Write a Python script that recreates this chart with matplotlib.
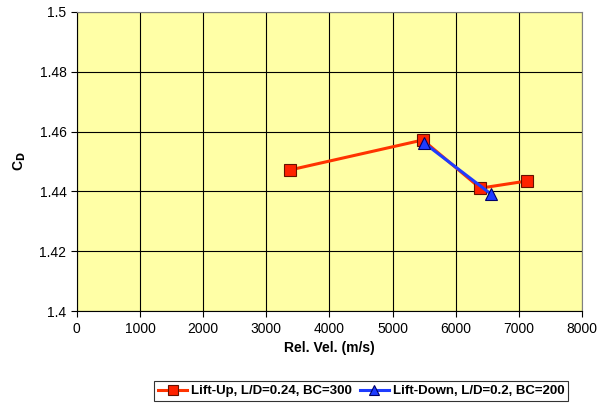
import matplotlib
matplotlib.use('Agg')
import matplotlib.pyplot as plt

plt.rcParams['font.family'] = ['Liberation Sans', 'DejaVu Sans']

# Lift-Up, L/D=0.24, BC=300
up_vel = [3380, 5480, 6390, 7130]
up_cd = [1.4472, 1.4572, 1.4411, 1.4435]

# Lift-Down, L/D=0.2, BC=200
down_vel = [5500, 6560]
down_cd = [1.4562, 1.4391]

fig = plt.figure(figsize=(6, 4.11), dpi=100)
ax = fig.add_axes([0.128, 0.243, 0.842, 0.728])
ax.set_facecolor('#FFFFA6')

ax.plot(up_vel, up_cd, color='#FF3300', lw=2.2, marker='s', ms=8,
        mfc='#FF2200', mec='#661100', mew=0.8,
        label='Lift-Up, L/D=0.24, BC=300', zorder=3)
ax.plot(down_vel, down_cd, color='#1E3CFF', lw=2.2, marker='^', ms=8,
        mfc='#1E3CFF', mec='#000066', mew=0.8,
        label='Lift-Down, L/D=0.2, BC=200', zorder=4)

ax.set_xlim(0, 8000)
ax.set_ylim(1.4, 1.5)
ax.set_xticks(range(0, 8001, 1000))
ax.set_yticks([1.4, 1.42, 1.44, 1.46, 1.48, 1.5])
ax.set_yticklabels(['1.4', '1.42', '1.44', '1.46', '1.48', '1.5'])
ax.grid(True, color='black', lw=0.8)
ax.tick_params(labelsize=10, direction='out', length=4)
for s in ax.spines.values():
    s.set_color('#808080')
ax.spines['left'].set_color('black')
ax.spines['bottom'].set_color('black')

ax.set_xlabel('Rel. Vel. (m/s)', fontsize=10, fontweight='bold', labelpad=4)
ax.set_ylabel('C$_\\mathbf{D}$', fontsize=10, fontweight='bold', labelpad=8)

leg = fig.legend(loc='center', bbox_to_anchor=(0.602, 0.048), ncol=2,
                 frameon=True, fancybox=False, edgecolor='black',
                 prop={'weight': 'bold', 'size': 9.5},
                 handlelength=2.2, handletextpad=0.3, columnspacing=0.6,
                 borderpad=0.3, markerscale=0.85)
leg.get_frame().set_linewidth(0.8)

fig.savefig('out.png', dpi=100)
